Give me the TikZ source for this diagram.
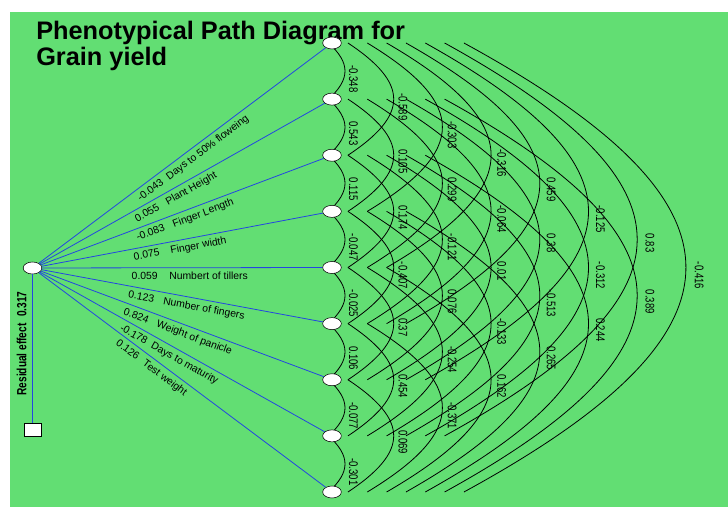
\documentclass[tikz,border=0pt]{standalone}
\usepackage{fontspec}
\setmainfont{Liberation Sans}
\newfontfamily\narrowfont[FakeStretch=0.76]{Liberation Sans}
\usepackage{tikz}
\usetikzlibrary{shapes.geometric,backgrounds}
\definecolor{dpgreen}{RGB}{98,222,115}
\definecolor{dpblue}{RGB}{35,70,225}
\tikzstyle{trait} = [ellipse, draw=black, fill=white, thin, minimum width=14pt, minimum height=9pt, inner sep=0pt]
\tikzstyle{resid} = [rectangle, draw=black, fill=white, thin, minimum width=12.75pt, minimum height=9.75pt, inner sep=0pt]
\tikzstyle{link} = [draw=dpblue, line width=0.6pt]
\tikzstyle{corr} = [draw=black, line width=0.6pt]
\tikzstyle{coef} = [sloped, anchor=north west, inner sep=3pt, font=\fontsize{7.8}{9}\selectfont]
\tikzstyle{rval} = [rotate=-90, anchor=west, inner sep=0pt, font=\narrowfont\fontsize{9.4}{10}\selectfont]

\begin{document}
\begin{tikzpicture}[x=0.75pt, y=0.75pt]
\useasboundingbox (0,0) rectangle (728,507);
\begin{scope}[on background layer]
\fill[dpgreen] (10,0) rectangle (728,495);
\end{scope}

% Title
\node[anchor=north west, align=left, inner sep=0pt, font=\bfseries\fontsize{19}{19.5}\selectfont] (title) at (36,486.5) {Phenotypical Path Diagram for\\Grain yield};

% Grain yield node and residual
\node[trait] (L) at (32.5,239) {};
\node[resid] (sq) at (32.5,77) {};
\node[rotate=90, font=\narrowfont\bfseries\fontsize{10}{12}\selectfont] (reslbl) at (21.5,163.5) {Residual effect\hspace{5pt}0.317};

% Traits
\foreach \i in {1,...,9}
  \node[trait] (n\i) at (332,{464-56.125*(\i-1)}) {};

% Direct effects
\draw[link] (L) -- (sq);
\draw[link] (L) -- (n1) node[coef, pos=0.318] {-0.043} node[coef, pos=0.418] {Days to 50\% floweing};
\draw[link] (L) -- (n2) node[coef, pos=0.309] {0.055} node[coef, pos=0.416] {Plant Height};
\draw[link] (L) -- (n3) node[coef, pos=0.314] {-0.083} node[coef, pos=0.442] {Finger Length};
\draw[link] (L) -- (n4) node[coef, pos=0.307] {0.075} node[coef, pos=0.437] {Finger width};
\draw[link] (L) -- (n5) node[coef, pos=0.304] {0.059} node[coef, pos=0.438] {Numbert of tillers};
\draw[link] (L) -- (n6) node[coef, pos=0.299] {0.123} node[coef, pos=0.423] {Number of fingers};
\draw[link] (L) -- (n7) node[coef, pos=0.290] {0.824} node[coef, pos=0.407] {Weight of panicle};
\draw[link] (L) -- (n8) node[coef, pos=0.286] {-0.178} node[coef, pos=0.395] {Days to maturity};
\draw[link] (L) -- (n9) node[coef, pos=0.279] {0.126} node[coef, pos=0.373] {Test weight};

% Correlations
\begin{scope}[on background layer]
\foreach \i/\j/\rr in {1/2/-0.348, 1/3/-0.589, 1/4/-0.303, 1/5/-0.316, 1/6/0.459, 1/7/-0.125, 1/8/0.83, 1/9/-0.416,
  2/3/0.543, 2/4/0.105, 2/5/0.299, 2/6/-0.064, 2/7/0.38, 2/8/-0.312, 2/9/0.389,
  3/4/0.115, 3/5/0.174, 3/6/-0.121, 3/7/0.01, 3/8/-0.513, 3/9/0.244,
  4/5/-0.047, 4/6/-0.407, 4/7/0.076, 4/8/-0.133, 4/9/0.265,
  5/6/-0.025, 5/7/0.37, 5/8/-0.254, 5/9/0.162,
  6/7/0.106, 6/8/0.454, 6/9/-0.371,
  7/8/-0.077, 7/9/0.069,
  8/9/-0.301} {
  \pgfmathsetmacro{\kk}{\j-\i}
  \pgfmathsetmacro{\sx}{(-22.7+19.33*\kk)*0.75}
  \pgfmathsetmacro{\cx}{-17.33+39.16*\kk}
  \pgfmathsetmacro{\cy}{20.2*\kk}
  \pgfmathsetmacro{\lx}{(7.8+0.7*\kk)*0.75}
  \draw[corr] ([xshift=\sx pt]n\i.center) .. controls +(\cx,-\cy) and +(\cx,\cy) .. ([xshift=\sx pt]n\j.center)
    node[xshift=\lx pt, yshift=4.5pt, pos=0.5, rval] {\rr};
}
\end{scope}
\end{tikzpicture}
\end{document}
